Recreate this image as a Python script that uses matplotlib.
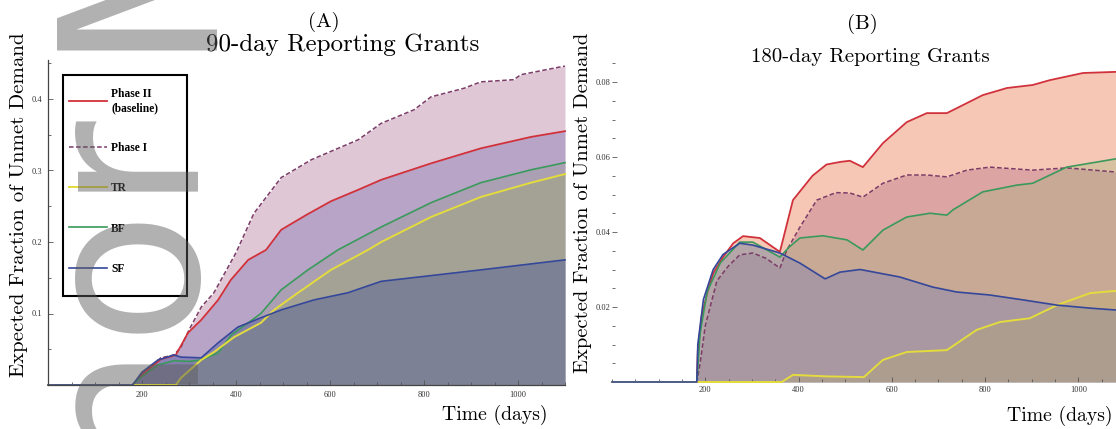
import matplotlib
matplotlib.use("Agg")
import matplotlib.pyplot as plt
from matplotlib.lines import Line2D
from matplotlib.patches import Rectangle
from matplotlib.ticker import MultipleLocator

# ---------------- data ----------------
# Panel A : 90-day reporting grants
a_p1_days = [0, 180, 200, 240, 268, 283, 300, 326, 353, 400, 438, 496, 560, 660, 709, 779, 815, 885, 921, 991, 1006, 1091, 1100]
a_p1_vals = [0, 0, 0.015, 0.038, 0.042, 0.053, 0.077, 0.109, 0.129, 0.185, 0.24, 0.29, 0.315, 0.343, 0.366, 0.385, 0.403, 0.415, 0.424, 0.427, 0.434, 0.445, 0.446]
a_p2_days = [0, 180, 200, 240, 272, 298, 326, 362, 389, 426, 464, 496, 550, 602, 660, 709, 815, 921, 1028, 1100]
a_p2_vals = [0, 0, 0.015, 0.036, 0.042, 0.073, 0.091, 0.119, 0.147, 0.175, 0.189, 0.217, 0.238, 0.257, 0.273, 0.287, 0.310, 0.331, 0.347, 0.355]
a_bf_days = [0, 180, 200, 234, 268, 300, 326, 362, 390, 426, 453, 496, 553, 617, 709, 815, 921, 1028, 1100]
a_bf_vals = [0, 0, 0.012, 0.028, 0.034, 0.033, 0.035, 0.045, 0.070, 0.087, 0.100, 0.133, 0.161, 0.189, 0.221, 0.255, 0.283, 0.301, 0.311]
a_tr_days = [0, 272, 283, 326, 353, 396, 453, 481, 532, 602, 681, 709, 815, 921, 1028, 1100]
a_tr_vals = [0, 0, 0.010, 0.035, 0.046, 0.067, 0.087, 0.105, 0.129, 0.161, 0.189, 0.200, 0.235, 0.263, 0.283, 0.295]
a_sf_days = [0, 180, 200, 234, 268, 283, 326, 362, 404, 453, 496, 566, 638, 709, 921, 1100]
a_sf_vals = [0, 0, 0.018, 0.035, 0.042, 0.039, 0.038, 0.059, 0.081, 0.094, 0.105, 0.119, 0.129, 0.145, 0.161, 0.175]

# Panel B : 180-day reporting grants
b_p2_days = [0, 182, 184, 192, 204, 217, 238, 260, 281, 317, 360, 388, 430, 460, 490, 510, 538, 581, 632, 675, 718, 739, 795, 847, 902, 939, 1010, 1080, 1100]
b_p2_vals = [0, 0, 0.0085, 0.0173, 0.0237, 0.029, 0.0333, 0.037, 0.0389, 0.0384, 0.0347, 0.0485, 0.055, 0.058, 0.0587, 0.059, 0.0573, 0.0637, 0.0693, 0.0717, 0.0717, 0.073, 0.0765, 0.0784, 0.0792, 0.0805, 0.0824, 0.0827, 0.0827]
b_p1_days = [0, 182, 189, 200, 225, 250, 274, 302, 330, 360, 375, 403, 439, 480, 510, 538, 581, 632, 675, 718, 761, 810, 902, 975, 1080, 1100]
b_p1_vals = [0, 0, 0.005, 0.015, 0.027, 0.031, 0.0339, 0.0344, 0.033, 0.0304, 0.0352, 0.0413, 0.0485, 0.0505, 0.0504, 0.0493, 0.053, 0.0552, 0.0552, 0.0547, 0.0565, 0.0573, 0.0565, 0.0571, 0.056, 0.056]
b_bf_days = [0, 182, 189, 204, 232, 274, 302, 360, 380, 403, 452, 504, 538, 581, 632, 682, 718, 731, 795, 868, 902, 975, 1080, 1100]
b_bf_vals = [0, 0, 0.013, 0.024, 0.0317, 0.0373, 0.0373, 0.0333, 0.036, 0.0384, 0.039, 0.0379, 0.0352, 0.0405, 0.044, 0.045, 0.0445, 0.0459, 0.0507, 0.0525, 0.053, 0.0573, 0.0595, 0.0596]
b_tr_days = [0, 364, 388, 460, 540, 581, 632, 718, 782, 832, 896, 954, 1025, 1080, 1100]
b_tr_vals = [0, 0, 0.0019, 0.0015, 0.0013, 0.0059, 0.008, 0.0085, 0.0139, 0.016, 0.017, 0.0205, 0.0237, 0.0243, 0.0245]
b_sf_days = [0, 182, 184, 196, 217, 238, 274, 302, 360, 403, 457, 489, 532, 617, 688, 739, 810, 881, 954, 1025, 1080, 1100]
b_sf_vals = [0, 0, 0.010, 0.022, 0.030, 0.034, 0.037, 0.0365, 0.0344, 0.0317, 0.0275, 0.0293, 0.030, 0.028, 0.0253, 0.024, 0.0232, 0.0219, 0.0205, 0.0197, 0.0192, 0.019]

series_labels = ["Phase II\n(baseline)", "Phase I", "TR", "BF", "SF"]
x_ticks = [200, 400, 600, 800, 1000]
x_ticklabels = ["200", "400", "600", "800", "1000"]
a_y_ticks = [0.1, 0.2, 0.3, 0.4]
a_y_ticklabels = ["0.1", "0.2", "0.3", "0.4"]
b_y_ticks = [0.02, 0.04, 0.06, 0.08]
b_y_ticklabels = ["0.02", "0.04", "0.06", "0.08"]

# ---------------- styling ----------------
W, H = 1116, 429
plt.rcParams["font.family"] = ["Liberation Serif", "DejaVu Serif"]
CM = "cmr10"

def fx(x):
    return x / W

def fy(y):
    return 1 - y / H

col = {"p2": "#d0313a", "p1": "#7b3c68", "tr": "#e3dc3c", "bf": "#3a9a5c", "sf": "#34479a"}
style = {"p2": "-", "p1": (0, (3, 1.6)), "tr": "-", "bf": "-", "sf": "-"}
lw = {"p2": 1.3, "p1": 1.1, "tr": 1.4, "bf": 1.2, "sf": 1.2}

fig = plt.figure(figsize=(W / 100, H / 100), dpi=100)

axA = fig.add_axes([fx(48), fy(385), fx(565) - fx(48), fy(60) - fy(385)])
axA.set_xlim(0, 1100)
axA.set_ylim(0, (385 - 60) / 715)
axB = fig.add_axes([fx(612), fy(382), 513 / W, (382 - 63) / H])
axB.set_xlim(0, 1100)
axB.set_ylim(0, (382 - 63) / 3750)

A = {"p1": (a_p1_days, a_p1_vals), "p2": (a_p2_days, a_p2_vals), "bf": (a_bf_days, a_bf_vals),
     "tr": (a_tr_days, a_tr_vals), "sf": (a_sf_days, a_sf_vals)}
B = {"p1": (b_p1_days, b_p1_vals), "p2": (b_p2_days, b_p2_vals), "bf": (b_bf_days, b_bf_vals),
     "tr": (b_tr_days, b_tr_vals), "sf": (b_sf_days, b_sf_vals)}

fillA = [("p1", "#9b487a", 0.30), ("p2", "#5c53a5", 0.30), ("bf", "#8e9485", 0.30),
         ("tr", "#95aa50", 0.30), ("sf", "#263596", 0.30)]
fillB = [("p2", "#e4480c", 0.30), ("p1", "#a4537d", 0.30), ("bf", "#95b673", 0.30),
         ("sf", "#646ebe", 0.30), ("tr", "#beb450", 0.22)]

for ax, data, fills, lz in [(axA, A, fillA, 2.4), (axB, B, fillB, 3)]:
    for key, fc, fa in fills:
        d, v = data[key]
        ax.fill_between(d, 0, v, color=fc, alpha=fa, lw=0, zorder=1)
    for key in ["p1", "p2", "bf", "tr", "sf"]:
        d, v = data[key]
        ax.plot(d, v, color=col[key], ls=style[key], lw=lw[key], zorder=lz, clip_on=False)

# axes decoration
for ax in (axA, axB):
    for s in ("top", "right"):
        ax.spines[s].set_visible(False)
    ax.set_xticks(x_ticks)
    ax.set_xticklabels(x_ticklabels)
    ax.xaxis.set_minor_locator(MultipleLocator(50))
    ax.tick_params(which="both", direction="in", colors="#555555", labelcolor="#333333",
                   labelsize=6, width=0.6)
    ax.tick_params(which="major", length=3.5)
    ax.tick_params(which="minor", length=2)

axA.set_yticks(a_y_ticks)
axA.set_yticklabels(a_y_ticklabels)
axA.yaxis.set_minor_locator(MultipleLocator(0.05))
axA.tick_params(axis="x", pad=4)
axA.tick_params(axis="y", pad=4)
for s in ("left", "bottom"):
    axA.spines[s].set_color("#444444")
    axA.spines[s].set_linewidth(0.9)

axB.set_yticks(b_y_ticks)
axB.set_yticklabels(b_y_ticklabels)
axB.yaxis.set_minor_locator(MultipleLocator(0.005))
axB.spines["left"].set_visible(False)
axB.spines["bottom"].set_color("#bbbbbb")
axB.spines["bottom"].set_linewidth(0.6)
axB.tick_params(axis="y", pad=1)
axB.tick_params(axis="x", pad=3)

# legend (panel A): black box + entries
box = Rectangle((fx(63), fy(296)), fx(187) - fx(63), fy(75) - fy(296), transform=fig.transFigure,
                facecolor="white", edgecolor="black", linewidth=1.5, zorder=4)
axA.add_patch(box)
handles = [Line2D([], [], color=col[k], ls=style[k], lw=lw[k]) for k in ["p2", "p1", "tr", "bf", "sf"]]
leg = axA.legend(handles, series_labels, loc="upper left",
                 bbox_to_anchor=(fx(69), fy(88)), bbox_transform=fig.transFigure,
                 prop={"family": "Liberation Serif", "weight": "bold", "size": 8.3},
                 handlelength=3.3, handletextpad=0.35, labelspacing=2.45, borderpad=0,
                 borderaxespad=0, frameon=False)
leg.set_zorder(5)

# titles and labels
fig.text(fx(324), fy(22), "(A)", ha="center", va="center", fontsize=15, family=CM)
fig.text(fx(343), fy(45), "90-day Reporting Grants", ha="center", va="center", fontsize=18, family=CM)
fig.text(fx(862), fy(24), "(B)", ha="center", va="center", fontsize=15, family=CM)
fig.text(fx(870), fy(57), "180-day Reporting Grants", ha="center", va="center", fontsize=15, family=CM)
fig.text(fx(19), fy(205), "Expected Fraction of Unmet Demand", rotation=90, ha="center", va="center",
         fontsize=15, family=CM)
fig.text(fx(583), fy(203), "Expected Fraction of Unmet Demand", rotation=90, ha="center", va="center",
         fontsize=14.8, family=CM)
fig.text(fx(495), fy(415), "Time (days)", ha="center", va="center", fontsize=14.2, family=CM)
fig.text(fx(1060), fy(416), "Time (days)", ha="center", va="center", fontsize=14.2, family=CM)

# vertical "Author Manuscript" watermark
wm = dict(rotation=90, rotation_mode="anchor", va="baseline", fontsize=158,
          family="DejaVu Sans", color="#5c5c5c", alpha=0.48, zorder=10)
fig.text(fx(197), fy(118), "Author", ha="right", **wm)
fig.text(fx(197), fy(50), "Manuscript", ha="left", **wm)

fig.savefig("out.png", dpi=100)
